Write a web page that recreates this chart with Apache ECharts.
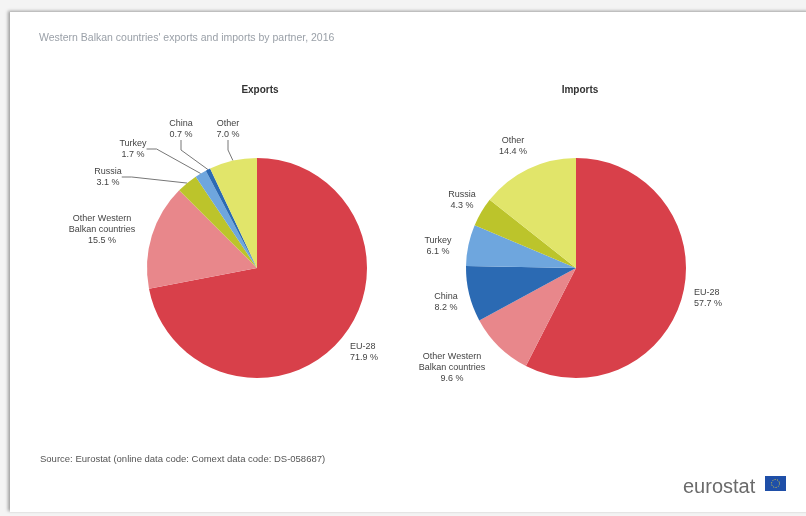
<!DOCTYPE html>
<html><head><meta charset="utf-8">
<script src="https://cdn.jsdelivr.net/npm/echarts@6/dist/echarts.min.js"></script>
<style>
html,body{margin:0;padding:0;background:#f4f4f4;}
#frame{position:absolute;left:10px;top:12px;width:800px;height:500px;background:#fff;box-shadow:-2px -1px 3px rgba(0,0,0,0.35);}
#main{position:absolute;left:0;top:0;width:806px;height:516px;}
</style></head>
<body>
<div id="frame"></div>
<div id="main"></div>
<script>
const categoriesExports = ['EU-28', 'Other Western\nBalkan countries', 'Russia', 'Turkey', 'China', 'Other'];
const valuesExports = [71.9, 15.5, 3.1, 1.7, 0.7, 7.0];
const categoriesImports = ['EU-28', 'Other Western\nBalkan countries', 'China', 'Turkey', 'Russia', 'Other'];
const valuesImports = [57.7, 9.6, 8.2, 6.1, 4.3, 14.4];

const colorMap = {
  'EU-28': '#d8404a',
  'Other Western\nBalkan countries': '#e8878b',
  'Russia': '#bcc42b',
  'Turkey': '#6ea6de',
  'China': '#2b6ab3',
  'Other': '#e1e56a'
};
// label anchor positions (layout only)
const posExports = [[350, 352, 'left'], [102, 230, 'center'], [108, 177, 'center'], [133, 149, 'center'], [181, 129, 'center'], [228, 129, 'center']];
const lineExports = [false, false, true, true, true, true];
const posImports = [[694, 298, 'left'], [452, 368, 'center'], [446, 302, 'center'], [438, 246, 'center'], [462, 200, 'center'], [513, 146, 'center']];

function fmt(v){ return v.toFixed(1) + ' %'; }
function build(cats, vals, lines){
  return cats.map((c, i) => ({
    name: c, value: vals[i],
    itemStyle: {color: colorMap[c]},
    labelLine: {show: !!(lines && lines[i])}
  }));
}
const FF = 'Liberation Sans, Arial, sans-serif';
const labelStyle = {color: '#444', fontSize: 9, fontFamily: FF, lineHeight: 11, align: 'center'};

const chart = echarts.init(document.getElementById('main'), null, {renderer: 'canvas'});
function series(name, cats, vals, cx, pos, lines){
  return {
    type: 'pie', name: name, center: [cx, 268], radius: [0, 110],
    startAngle: 90, clockwise: true, animation: false,
    data: build(cats, vals, lines),
    label: Object.assign({show: true, position: 'outside', formatter: p => p.name + '\n' + fmt(p.value)}, labelStyle),
    labelLine: {lineStyle: {color: '#777', width: 1}, length: 10, length2: 10},
    labelLayout: function(p){
      const q = pos[p.dataIndex];
      return {x: q[0], y: q[1], align: q[2], verticalAlign: 'middle'};
    },
    emphasis: {disabled: true}
  };
}
chart.setOption({
  backgroundColor: 'transparent',
  title: [
    {text: "Western Balkan countries' exports and imports by partner, 2016", left: 34, top: 28, textStyle: {fontSize: 10.5, fontWeight: 'normal', color: '#9aa0a8', fontFamily: FF}},
    {text: 'Exports', left: 255, top: 80, textAlign: 'center', textStyle: {fontSize: 10, fontWeight: 'bold', color: '#333', fontFamily: FF}},
    {text: 'Imports', left: 575, top: 80, textAlign: 'center', textStyle: {fontSize: 10, fontWeight: 'bold', color: '#333', fontFamily: FF}},
    {text: 'Source: Eurostat (online data code: Comext data code: DS-058687)', left: 35, top: 449, textStyle: {fontSize: 9.5, fontWeight: 'normal', color: '#555', fontFamily: FF}},
    {text: 'eurostat', left: 678, top: 472, textStyle: {fontSize: 20, fontWeight: 'normal', color: '#6b6b6b', fontFamily: FF}}
  ],
  graphic: [
    {type: 'rect', shape: {x: 765, y: 476, width: 21, height: 15}, style: {fill: '#1f4fa8'}},
    {type: 'circle', shape: {cx: 775.5, cy: 483.5, r: 4}, style: {fill: 'none', stroke: '#e8d23a', lineWidth: 1, lineDash: [1, 1.5]}}
  ],
  series: [
    series('Exports', categoriesExports, valuesExports, 257, posExports, lineExports),
    series('Imports', categoriesImports, valuesImports, 576, posImports, null)
  ]
});
</script>
</body></html>
